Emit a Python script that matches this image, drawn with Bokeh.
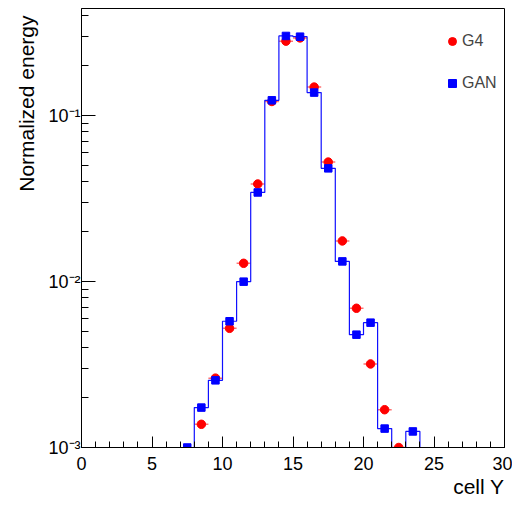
import numpy as np
from bokeh.plotting import figure
from bokeh.models import FixedTicker, Legend, LegendItem, ColumnDataSource, Title
from bokeh.embed import file_html
from bokeh.resources import INLINE

# ---------------- data ----------------
bin_edges = list(range(0, 31))
g4_values = [0, 0, 0, 0, 0, 0, 0, 0,
             1.38e-3, 2.62e-3, 5.23e-3, 1.29e-2, 3.88e-2, 0.122, 0.282, 0.295,
             0.149, 0.0526, 0.0176, 6.91e-3, 3.19e-3, 1.69e-3, 1.00e-3,
             0, 0, 0, 0, 0, 0, 0]
gan_values = [0, 0, 0, 0, 0, 0, 0,
              1.00e-3, 1.74e-3, 2.54e-3, 5.77e-3, 1.00e-2, 3.45e-2, 0.124, 0.303, 0.300,
              0.138, 0.0482, 0.01325, 4.79e-3, 5.66e-3, 1.30e-3, 0, 1.25e-3,
              0, 0, 0, 0, 0, 0]
x_major_ticks = [0, 5, 10, 15, 20, 25, 30]
x_minor_ticks = list(range(0, 31))
y_major_ticks = [1e-3, 1e-2, 1e-1]
y_minor_ticks = [m * d for d in (1e-3, 1e-2, 1e-1) for m in range(2, 10) if m * d < 0.45]
y_tick_labels = {1e-3: "10\u207b\u00b3", 1e-2: "10\u207b\u00b2", 1e-1: "10\u207b\u00b9"}
x_label = "cell Y"
y_label = "Normalized energy"
series_names = ["G4", "GAN"]

Y_MIN, Y_MAX = 1e-3, 0.4436
X_MIN, X_MAX = 0, 30
FONT = "Liberation Sans"

edges = np.array(bin_edges, dtype=float)
centers = (edges[:-1] + edges[1:]) / 2
g4 = np.array(g4_values)
gan = np.array(gan_values)

p = figure(width=512, height=497, y_axis_type="log",
           x_range=(X_MIN, X_MAX), y_range=(Y_MIN, Y_MAX),
           output_backend="svg", toolbar_location=None,
           min_border_left=81, min_border_right=8, min_border_top=8, min_border_bottom=50)
p.xgrid.visible = False
p.ygrid.visible = False
p.outline_line_color = "black"
p.outline_line_width = 1
p.background_fill_color = "white"
p.border_fill_color = "white"

# G4: red points with horizontal error bars
m4 = g4 > 0
src4 = ColumnDataSource(dict(x=centers[m4], y=g4[m4], x0=centers[m4] - 0.5, x1=centers[m4] + 0.5))
p.segment(x0="x0", x1="x1", y0="y", y1="y", source=src4, line_color="#ff0000", line_alpha=0.55, line_width=1.5)
r_g4 = p.scatter("x", "y", source=src4, marker="circle", size=8.5, fill_color="#ff0000", line_color="#ff0000")

# GAN: blue step histogram + square markers
gan_step = np.maximum(np.append(gan, gan[-1]), Y_MIN)
p.step(x=edges, y=gan_step, mode="after", line_color="#1010ff", line_width=1.2)
mg = gan > 0
srcg = ColumnDataSource(dict(x=centers[mg], y=gan[mg]))
r_gan = p.scatter("x", "y", source=srcg, marker="square", size=7.5, fill_color="#0000ff", line_color="#0000ff")

# axes
xa = p.xaxis[0]
xa.ticker = FixedTicker(ticks=x_major_ticks, minor_ticks=x_minor_ticks)
ya = p.yaxis[0]
ya.ticker = FixedTicker(ticks=y_major_ticks, minor_ticks=y_minor_ticks)
ya.major_label_overrides = y_tick_labels
for ax in (xa, ya):
    ax.major_tick_out = 0
    ax.minor_tick_out = 0
    ax.axis_line_color = "black"
    ax.major_tick_line_color = "black"
    ax.minor_tick_line_color = "black"
    ax.major_label_text_font = FONT
    ax.major_label_text_font_size = "18px"
    ax.major_label_text_color = "black"
xa.major_tick_in = 11
xa.minor_tick_in = 6
ya.major_tick_in = 14
ya.minor_tick_in = 7
xa.major_label_standoff = 9
ya.major_label_standoff = 1

# axis titles
p.add_layout(Title(text=x_label, align="right", text_font=FONT, text_font_size="21px",
                   text_font_style="normal", text_color="black", standoff=0), "below")
p.add_layout(Title(text=y_label, align="right", text_font=FONT, text_font_size="21px",
                   text_font_style="normal", text_color="black", offset=7, standoff=16), "left")

# legend
legend = Legend(items=[LegendItem(label=series_names[0], renderers=[r_g4]),
                       LegendItem(label=series_names[1], renderers=[r_gan])],
                location=(361, 353), orientation="vertical",
                padding=0, margin=0, spacing=20, glyph_width=20, glyph_height=22,
                label_height=20, label_standoff=0,
                label_text_font=FONT, label_text_font_size="16px",
                border_line_alpha=0, background_fill_alpha=0)
p.add_layout(legend)

open("out.html", "w").write(file_html(p, INLINE))
